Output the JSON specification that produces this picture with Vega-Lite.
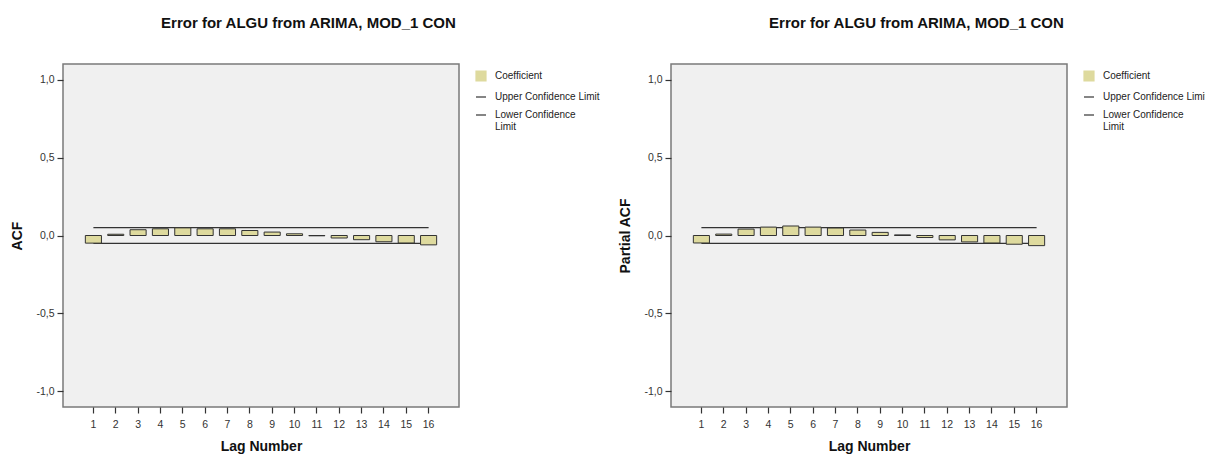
{
  "$schema": "https://vega.github.io/schema/vega-lite/v6.json",
  "padding": {"left": 10, "top": 15, "right": 0, "bottom": 0},
  "background": "white",
  "datasets": {
    "acf": [
      {"lag": 1, "value": -0.049, "upper": 0.05, "lower": -0.05},
      {"lag": 2, "value": 0.008, "upper": 0.05, "lower": -0.05},
      {"lag": 3, "value": 0.037, "upper": 0.05, "lower": -0.05},
      {"lag": 4, "value": 0.043, "upper": 0.05, "lower": -0.05},
      {"lag": 5, "value": 0.049, "upper": 0.05, "lower": -0.05},
      {"lag": 6, "value": 0.043, "upper": 0.05, "lower": -0.05},
      {"lag": 7, "value": 0.043, "upper": 0.05, "lower": -0.05},
      {"lag": 8, "value": 0.032, "upper": 0.05, "lower": -0.05},
      {"lag": 9, "value": 0.022, "upper": 0.05, "lower": -0.05},
      {"lag": 10, "value": 0.011, "upper": 0.05, "lower": -0.05},
      {"lag": 11, "value": -0.002, "upper": 0.05, "lower": -0.05},
      {"lag": 12, "value": -0.016, "upper": 0.05, "lower": -0.05},
      {"lag": 13, "value": -0.027, "upper": 0.05, "lower": -0.05},
      {"lag": 14, "value": -0.040, "upper": 0.05, "lower": -0.05},
      {"lag": 15, "value": -0.048, "upper": 0.05, "lower": -0.05},
      {"lag": 16, "value": -0.060, "upper": 0.05, "lower": -0.05}
    ],
    "pacf": [
      {"lag": 1, "value": -0.048, "upper": 0.05, "lower": -0.05},
      {"lag": 2, "value": 0.009, "upper": 0.05, "lower": -0.05},
      {"lag": 3, "value": 0.041, "upper": 0.05, "lower": -0.05},
      {"lag": 4, "value": 0.054, "upper": 0.05, "lower": -0.05},
      {"lag": 5, "value": 0.061, "upper": 0.05, "lower": -0.05},
      {"lag": 6, "value": 0.054, "upper": 0.05, "lower": -0.05},
      {"lag": 7, "value": 0.048, "upper": 0.05, "lower": -0.05},
      {"lag": 8, "value": 0.035, "upper": 0.05, "lower": -0.05},
      {"lag": 9, "value": 0.020, "upper": 0.05, "lower": -0.05},
      {"lag": 10, "value": 0.004, "upper": 0.05, "lower": -0.05},
      {"lag": 11, "value": -0.013, "upper": 0.05, "lower": -0.05},
      {"lag": 12, "value": -0.028, "upper": 0.05, "lower": -0.05},
      {"lag": 13, "value": -0.041, "upper": 0.05, "lower": -0.05},
      {"lag": 14, "value": -0.048, "upper": 0.05, "lower": -0.05},
      {"lag": 15, "value": -0.056, "upper": 0.05, "lower": -0.05},
      {"lag": 16, "value": -0.065, "upper": 0.05, "lower": -0.05}
    ]
  },
  "config": {
    "font": "Liberation Sans",
    "view": {"fill": "#F0F0F0", "stroke": "#7A7A7A", "strokeWidth": 1.5},
    "axis": {
      "grid": false,
      "domain": false,
      "tickSize": 6,
      "tickColor": "#333333",
      "tickWidth": 1.2,
      "labelColor": "#333333",
      "labelFontSize": 10.5,
      "labelFont": "Liberation Sans",
      "titleFont": "Liberation Sans",
      "titleFontSize": 14,
      "titleFontWeight": "bold",
      "titleColor": "#111111"
    },
    "title": {"font": "Liberation Sans", "fontSize": 15, "fontWeight": "bold", "color": "#111111", "frame": "bounds", "anchor": "middle", "offset": 33},
    "legend": {
      "orient": "right",
      "offset": 10,
      "padding": 6,
      "labelFont": "Liberation Sans",
      "labelFontSize": 10,
      "labelColor": "#222222",
      "symbolSize": 100,
      "symbolStrokeColor": "#333333",
      "symbolStrokeWidth": 1.2,
      "rowPadding": 7,
      "labelOffset": 8,
      "labelLimit": 200
    }
  },
  "resolve": {"scale": {"color": "independent", "y": "independent", "x": "independent"}, "legend": {"color": "independent"}},
  "spacing": 11,
  "hconcat": [
    {
      "width": 396,
      "height": 343,
      "title": {"text": "Error for ALGU from ARIMA, MOD_1 CON"},
      "data": {"name": "acf"},
      "encoding": {
        "x": {"field": "lag", "type": "ordinal", "scale": {"paddingInner": 0.28, "paddingOuter": 1.0}, "axis": {"title": "Lag Number", "labelAngle": 0, "labelPadding": 6, "titlePadding": 10}}
      },
      "layer": [
        {"mark": {"type": "line", "strokeWidth": 1.2}, "encoding": {"y": {"field": "upper", "type": "quantitative", "scale": {"domain": [-1.1, 1.1], "nice": false}, "axis": {"title": "ACF", "values": [-1, -0.5, 0, 0.5, 1], "labelExpr": "replace(replace(format(datum.value, '.1f'), '.', ','), '−', '-')", "labelPadding": 3, "titlePadding": 11}}, "color": {"datum": "Upper Confidence Limit", "scale": {"domain": ["Coefficient", "Upper Confidence Limit", "Lower Confidence Limit"], "range": ["#DEDA9E", "#333333", "#333333"]}, "legend": {"title": null, "labelExpr": "datum.label === 'Lower Confidence Limit' ? ['Lower Confidence', 'Limit'] : datum.label", "symbolType": "stroke", "encode": {"symbols": {"update": {"shape": {"signal": "datum.value === 'Coefficient' ? 'square' : 'stroke'"}, "fill": {"signal": "datum.value === 'Coefficient' ? '#DEDA9E' : 'transparent'"}, "stroke": {"value": "#333333"}, "strokeWidth": {"value": 1.2}, "opacity": {"value": 1}}}}}}}},
        {"mark": {"type": "line", "strokeWidth": 1.2}, "encoding": {"y": {"field": "lower", "type": "quantitative"}, "color": {"datum": "Lower Confidence Limit"}}},
        {"mark": {"type": "bar", "stroke": "#333333", "strokeWidth": 1}, "encoding": {"y": {"field": "value", "type": "quantitative"}, "color": {"datum": "Coefficient"}}},
        {"mark": {"type": "rule", "color": "#222222", "strokeWidth": 1.2}, "encoding": {"y": {"datum": 0}}}
      ]
    },
    {
      "width": 396,
      "height": 343,
      "title": {"text": "Error for ALGU from ARIMA, MOD_1 CON"},
      "data": {"name": "pacf"},
      "encoding": {
        "x": {"field": "lag", "type": "ordinal", "scale": {"paddingInner": 0.28, "paddingOuter": 1.0}, "axis": {"title": "Lag Number", "labelAngle": 0, "labelPadding": 6, "titlePadding": 10}}
      },
      "layer": [
        {"mark": {"type": "line", "strokeWidth": 1.2}, "encoding": {"y": {"field": "upper", "type": "quantitative", "scale": {"domain": [-1.1, 1.1], "nice": false}, "axis": {"title": "Partial ACF", "values": [-1, -0.5, 0, 0.5, 1], "labelExpr": "replace(replace(format(datum.value, '.1f'), '.', ','), '−', '-')", "labelPadding": 3, "titlePadding": 11}}, "color": {"datum": "Upper Confidence Limit", "scale": {"domain": ["Coefficient", "Upper Confidence Limit", "Lower Confidence Limit"], "range": ["#DEDA9E", "#333333", "#333333"]}, "legend": {"title": null, "labelExpr": "datum.label === 'Lower Confidence Limit' ? ['Lower Confidence', 'Limit'] : datum.label", "symbolType": "stroke", "encode": {"symbols": {"update": {"shape": {"signal": "datum.value === 'Coefficient' ? 'square' : 'stroke'"}, "fill": {"signal": "datum.value === 'Coefficient' ? '#DEDA9E' : 'transparent'"}, "stroke": {"value": "#333333"}, "strokeWidth": {"value": 1.2}, "opacity": {"value": 1}}}}}}}},
        {"mark": {"type": "line", "strokeWidth": 1.2}, "encoding": {"y": {"field": "lower", "type": "quantitative"}, "color": {"datum": "Lower Confidence Limit"}}},
        {"mark": {"type": "bar", "stroke": "#333333", "strokeWidth": 1}, "encoding": {"y": {"field": "value", "type": "quantitative"}, "color": {"datum": "Coefficient"}}},
        {"mark": {"type": "rule", "color": "#222222", "strokeWidth": 1.2}, "encoding": {"y": {"datum": 0}}}
      ]
    }
  ]
}
